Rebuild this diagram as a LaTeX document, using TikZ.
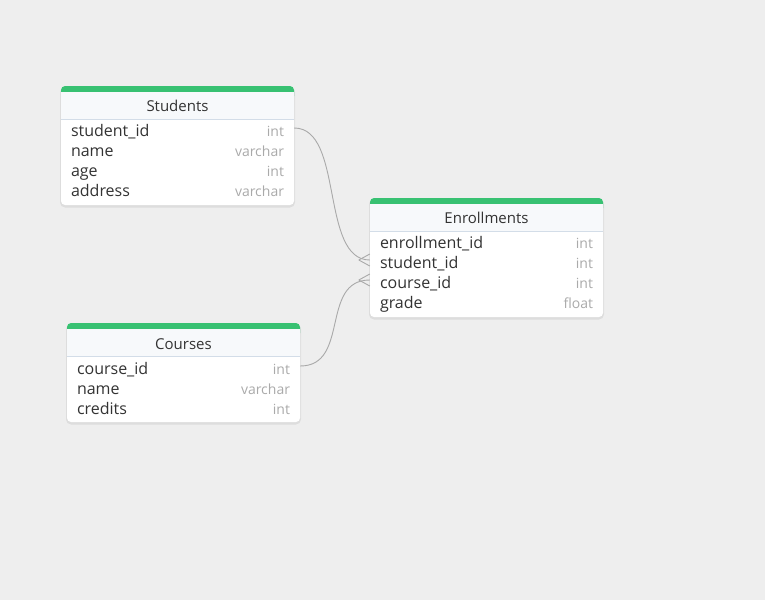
\documentclass[tikz,border=0pt]{standalone}
\usepackage{fontspec}
\setmainfont{Open Sans}
\usetikzlibrary{calc,positioning}
\definecolor{bgc}{HTML}{EEEEEE}
\definecolor{grn}{HTML}{38C172}
\definecolor{hdfill}{HTML}{F7F9FB}
\definecolor{sepc}{HTML}{D3DDE8}
\definecolor{txt}{HTML}{333333}
\definecolor{typc}{HTML}{AAAAAA}
\definecolor{lnk}{HTML}{A9A9A9}

\begin{document}
\begin{tikzpicture}[x=1pt,y=-1pt,
  tbl/.style={fill=white,rounded corners=4pt},
  shd/.style={fill=black,opacity=.07,rounded corners=5pt},
  bar/.style={fill=grn,rounded corners=4pt},
  ttl/.style={anchor=base,inner sep=0pt,text=txt,font=\fontsize{15}{17}\selectfont},
  row/.style={minimum width=233pt,minimum height=20pt,inner sep=0pt,text width=213pt,align=left,text height=17pt,text depth=1pt,text=txt,font=\fontsize{16}{18}\selectfont},
  typ/.style={anchor=east,inner sep=0pt,xshift=-10pt,text height=17pt,text depth=1pt,text=typc,font=\fontsize{14}{16}\selectfont},
  rel/.style={draw=lnk,line width=.9pt}]
  \fill[bgc] (0,0) rectangle (765,600);
  \useasboundingbox (0,0) rectangle (765,600);

  % Students
  \fill[shd] (60,87) rectangle (295,207.5);
  \fill[tbl] (61,86) rectangle (294,205);
  \fill[bar] (61,86) rectangle (294,100);
  \fill[hdfill] (61,92) rectangle (294,119);
  \draw[sepc] (61,119.5) -- (294,119.5);
  \node[ttl] (st) at (177.5,111.5) {Students};
  \node[row] (st1) at (177.5,128) {student\_id};
  \node[row] (st2) at (177.5,148) {name};
  \node[row] (st3) at (177.5,168) {age};
  \node[row] (st4) at (177.5,188) {address};
  \node[typ] at (st1.east) {int};
  \node[typ] at (st2.east) {varchar};
  \node[typ] at (st3.east) {int};
  \node[typ] at (st4.east) {varchar};

  % Enrollments
  \fill[shd] (369,199) rectangle (604,319.5);
  \fill[tbl] (370,198) rectangle (603,317);
  \fill[bar] (370,198) rectangle (603,212);
  \fill[hdfill] (370,204) rectangle (603,231);
  \draw[sepc] (370,231.5) -- (603,231.5);
  \node[ttl] (en) at (486.5,223.5) {Enrollments};
  \node[row] (en1) at (486.5,240) {enrollment\_id};
  \node[row] (en2) at (486.5,260) {student\_id};
  \node[row] (en3) at (486.5,280) {course\_id};
  \node[row] (en4) at (486.5,300) {grade};
  \node[typ] at (en1.east) {int};
  \node[typ] at (en2.east) {int};
  \node[typ] at (en3.east) {int};
  \node[typ] at (en4.east) {float};

  % Courses
  \fill[shd] (66,324) rectangle (301,424.5);
  \fill[tbl] (67,323) rectangle (300,422);
  \fill[bar] (67,323) rectangle (300,337);
  \fill[hdfill] (67,329) rectangle (300,356);
  \draw[sepc] (67,356.5) -- (300,356.5);
  \node[ttl] (co) at (183.5,349.5) {Courses};
  \node[row] (co1) at (183.5,366) {course\_id};
  \node[row] (co2) at (183.5,386) {name};
  \node[row] (co3) at (183.5,406) {credits};
  \node[typ] at (co1.east) {int};
  \node[typ] at (co2.east) {varchar};
  \node[typ] at (co3.east) {int};

  % relations
  \draw[rel] (st1.east) .. controls +(50,0) and +(-50,0) .. (en2.west);
  \draw[rel] ($(en2.west)+(-11,0)$) -- ($(en2.west)+(0,-6)$);
  \draw[rel] ($(en2.west)+(-11,0)$) -- ($(en2.west)+(0,6)$);
  \draw[rel] (co1.east) .. controls +(50,0) and +(-50,0) .. (en3.west);
  \draw[rel] ($(en3.west)+(-11,0)$) -- ($(en3.west)+(0,-6)$);
  \draw[rel] ($(en3.west)+(-11,0)$) -- ($(en3.west)+(0,6)$);
\end{tikzpicture}
\end{document}
